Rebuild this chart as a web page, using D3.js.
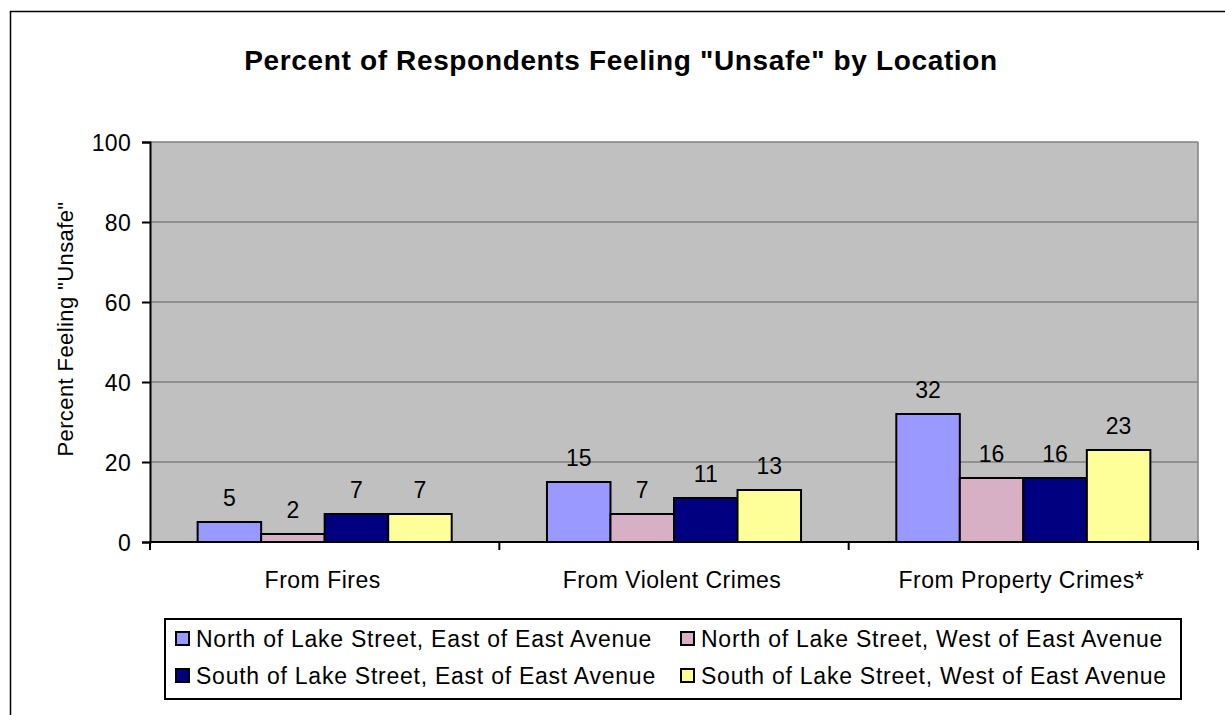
<!DOCTYPE html>
<html>
<head>
<meta charset="utf-8">
<script src="https://cdn.jsdelivr.net/npm/d3@7"></script>
<style>
  html, body { margin: 0; padding: 0; background: #fff; }
  svg { display: block; font-family: Arial, "Liberation Sans", sans-serif; }
</style>
</head>
<body>
<svg id="chart" width="1225" height="715"></svg>
<script>
const title = 'Percent of Respondents Feeling "Unsafe" by Location';
const yAxisTitle = 'Percent Feeling "Unsafe"';
const categories = ["From Fires", "From Violent Crimes", "From Property Crimes*"];
const seriesNames = [
  "North of Lake Street, East of East Avenue",
  "North of Lake Street, West of East Avenue",
  "South of Lake Street, East of East Avenue",
  "South of Lake Street, West of East Avenue"
];
const northEast = [5, 15, 32];
const northWest = [2, 7, 16];
const southEast = [7, 11, 16];
const southWest = [7, 13, 23];
const yTicks = [0, 20, 40, 60, 80, 100];
const colors = ["#9999FF", "#D8B0C6", "#000080", "#FFFF99"];

const seriesValues = [northEast, northWest, southEast, southWest];
const data = categories.map((c, i) => ({
  category: c,
  values: seriesNames.map((s, j) => ({ series: s, value: seriesValues[j][i], idx: j }))
}));

const svg = d3.select("#chart");
const plot = { left: 150, right: 1198, top: 142, bottom: 542 };

// outer chart border
svg.append("rect").attr("x", 10.5).attr("y", 11.5).attr("width", 1240).attr("height", 740)
  .attr("fill", "#fff").attr("stroke", "#000").attr("stroke-width", 1.5);

const x0 = d3.scaleBand().domain(categories).range([plot.left, plot.right]).paddingInner(0).paddingOuter(0);
const x1 = d3.scaleBand().domain(seriesNames).range([0, x0.bandwidth()]).paddingInner(0).paddingOuter(0.75);
const y = d3.scaleLinear().domain([0, 100]).range([plot.bottom, plot.top]);

// plot area
svg.append("rect").attr("x", plot.left).attr("y", plot.top)
  .attr("width", plot.right - plot.left).attr("height", plot.bottom - plot.top)
  .attr("fill", "#C0C0C0");

// gridlines
svg.append("g").selectAll("line").data(yTicks.filter(t => t > 0)).join("line")
  .attr("x1", plot.left).attr("x2", plot.right)
  .attr("y1", d => y(d)).attr("y2", d => y(d))
  .attr("stroke", "#808080").attr("stroke-width", 1.5);
// right border of plot
svg.append("line").attr("x1", plot.right).attr("x2", plot.right)
  .attr("y1", plot.top).attr("y2", plot.bottom)
  .attr("stroke", "#808080").attr("stroke-width", 1.5);

// bars
const groups = svg.append("g").selectAll("g").data(data).join("g")
  .attr("transform", d => `translate(${x0(d.category)},0)`);
groups.selectAll("rect").data(d => d.values).join("rect")
  .attr("x", d => x1(d.series))
  .attr("y", d => y(d.value))
  .attr("width", x1.bandwidth())
  .attr("height", d => y(0) - y(d.value))
  .attr("fill", d => colors[d.idx])
  .attr("stroke", "#000").attr("stroke-width", 2);
groups.selectAll("text").data(d => d.values).join("text")
  .attr("x", d => x1(d.series) + x1.bandwidth() / 2)
  .attr("y", d => y(d.value) - 16)
  .attr("text-anchor", "middle")
  .attr("font-size", 23).attr("fill", "#000")
  .text(d => d.value);

// y axis
const yAxis = d3.axisLeft(y).tickValues(yTicks).tickSize(8).tickPadding(11);
const yg = svg.append("g").attr("transform", `translate(${plot.left},0)`).call(yAxis);
yg.select(".domain").attr("stroke", "#000").attr("stroke-width", 2);
yg.selectAll(".tick line").attr("stroke", "#000").attr("stroke-width", 2);
yg.selectAll(".tick text").attr("font-size", 23).attr("font-family", "Arial, 'Liberation Sans', sans-serif")
  .attr("fill", "#000").attr("dy", "0.36em").attr("letter-spacing", 0.3);

// x axis
const boundaries = categories.map(c => x0(c)).concat([plot.right]);
svg.append("line").attr("x1", plot.left - 1).attr("x2", plot.right + 1)
  .attr("y1", plot.bottom).attr("y2", plot.bottom)
  .attr("stroke", "#000").attr("stroke-width", 2);
svg.append("g").selectAll("line").data(boundaries).join("line")
  .attr("x1", d => d).attr("x2", d => d)
  .attr("y1", plot.bottom).attr("y2", plot.bottom + 8)
  .attr("stroke", "#000").attr("stroke-width", 2);
svg.append("g").selectAll("text").data(categories).join("text")
  .attr("x", d => x0(d) + x0.bandwidth() / 2 - 2)
  .attr("y", 588)
  .attr("text-anchor", "middle")
  .attr("font-size", 23).attr("letter-spacing", 0.5)
  .text(d => d);

// title
svg.append("text").attr("x", 621).attr("y", 70).attr("text-anchor", "middle")
  .attr("font-size", 28).attr("font-weight", "bold").attr("letter-spacing", 0.65).text(title);

// y axis title
svg.append("text").attr("transform", "translate(73,329) rotate(-90)")
  .attr("text-anchor", "middle").attr("font-size", 22).attr("letter-spacing", 0.4).text(yAxisTitle);

// legend
const legend = svg.append("g");
legend.append("rect").attr("x", 165).attr("y", 619).attr("width", 1016).attr("height", 80)
  .attr("fill", "#fff").attr("stroke", "#000").attr("stroke-width", 2);
const legCols = [176, 681];
const legRows = [632, 669];
const items = legend.selectAll("g").data(seriesNames).join("g")
  .attr("transform", (d, i) => `translate(${legCols[i % 2]},${legRows[Math.floor(i / 2)]})`);
items.append("rect").attr("width", 13).attr("height", 13)
  .attr("fill", (d, i) => colors[i]).attr("stroke", "#000").attr("stroke-width", 2);
items.append("text").attr("x", 20).attr("y", 14.5)
  .attr("font-size", 23).attr("letter-spacing", 0.75).text(d => d);
</script>
</body>
</html>
